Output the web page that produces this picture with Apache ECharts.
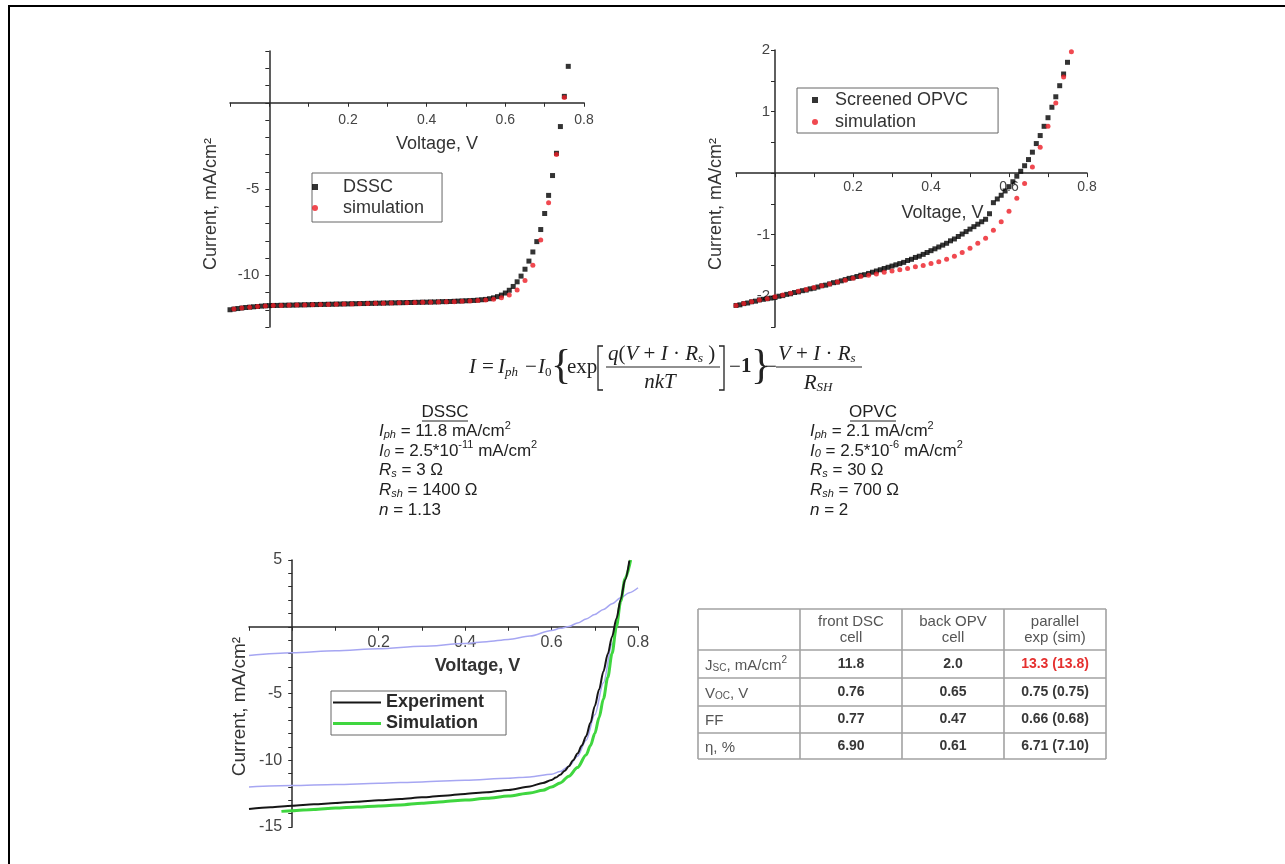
<!DOCTYPE html>
<html><head><meta charset="utf-8">
<script src="https://cdn.jsdelivr.net/npm/echarts@6/dist/echarts.min.js"></script>
<style>html,body{margin:0;padding:0;background:#fff}#c{width:1285px;height:864px}</style>
</head><body><div id="c"></div>
<script>
// ---------- DATA ----------
// Top-left: DSSC measured (black squares) and simulation (red dots)
const dsscExpV = [-0.10,-0.09,-0.08,-0.07,-0.06,-0.05,-0.04,-0.03,-0.02,-0.01,
 0.00,0.01,0.02,0.03,0.04,0.05,0.06,0.07,0.08,0.09,
 0.10,0.11,0.12,0.13,0.14,0.15,0.16,0.17,0.18,0.19,
 0.20,0.21,0.22,0.23,0.24,0.25,0.26,0.27,0.28,0.29,
 0.30,0.31,0.32,0.33,0.34,0.35,0.36,0.37,0.38,0.39,
 0.40,0.41,0.42,0.43,0.44,0.45,0.46,0.47,0.48,0.49,
 0.50,0.51,0.52,0.53,0.54,0.55,0.56,0.57,0.58,0.59,
 0.60,0.61,0.62,0.63,0.64,0.65,0.66,0.67,0.68,0.69,
 0.70,0.71,0.72,0.73,0.74,0.75,0.76];
const dsscExpI = [-12.00,-11.96,-11.93,-11.90,-11.87,-11.85,-11.83,-11.81,-11.79,-11.77,
 -11.76,-11.75,-11.75,-11.74,-11.74,-11.73,-11.73,-11.72,-11.72,-11.71,
 -11.71,-11.70,-11.70,-11.69,-11.69,-11.68,-11.68,-11.67,-11.67,-11.66,
 -11.66,-11.65,-11.65,-11.64,-11.64,-11.63,-11.63,-11.62,-11.62,-11.61,
 -11.61,-11.60,-11.60,-11.59,-11.59,-11.58,-11.58,-11.57,-11.57,-11.56,
 -11.56,-11.55,-11.55,-11.54,-11.53,-11.53,-11.52,-11.51,-11.50,-11.49,
 -11.48,-11.47,-11.46,-11.44,-11.42,-11.40,-11.36,-11.31,-11.24,-11.15,
 -11.03,-10.87,-10.65,-10.38,-10.05,-9.65,-9.18,-8.65,-8.05,-7.35,
 -6.42,-5.37,-4.22,-2.93,-1.38,0.37,2.11];
const dsscSimV = [-0.09,-0.07,-0.05,-0.03,-0.01,0.01,0.03,0.05,0.07,0.09,
 0.11,0.13,0.15,0.17,0.19,0.21,0.23,0.25,0.27,0.29,
 0.31,0.33,0.35,0.37,0.39,0.41,0.43,0.45,0.47,0.49,
 0.51,0.53,0.55,0.57,0.59,0.61,0.63,0.65,0.67,0.69,
 0.71,0.73,0.75];
const dsscSimI = [-11.96,-11.90,-11.85,-11.81,-11.78,-11.76,-11.75,-11.74,-11.73,-11.72,
 -11.71,-11.70,-11.69,-11.68,-11.67,-11.66,-11.65,-11.64,-11.63,-11.62,
 -11.61,-11.60,-11.59,-11.58,-11.57,-11.56,-11.55,-11.54,-11.53,-11.51,
 -11.49,-11.47,-11.44,-11.39,-11.30,-11.14,-10.85,-10.30,-9.42,-7.95,
 -5.80,-3.00,0.30];

// Top-right: screened OPVC measured (black squares) and simulation (red dots)
const opvExpV = [-0.10,-0.09,-0.08,-0.07,-0.06,-0.05,-0.04,-0.03,-0.02,-0.01,
 0.00,0.01,0.02,0.03,0.04,0.05,0.06,0.07,0.08,0.09,
 0.10,0.11,0.12,0.13,0.14,0.15,0.16,0.17,0.18,0.19,
 0.20,0.21,0.22,0.23,0.24,0.25,0.26,0.27,0.28,0.29,
 0.30,0.31,0.32,0.33,0.34,0.35,0.36,0.37,0.38,0.39,
 0.40,0.41,0.42,0.43,0.44,0.45,0.46,0.47,0.48,0.49,
 0.50,0.51,0.52,0.53,0.54,0.55,0.56,0.57,0.58,0.59,
 0.60,0.61,0.62,0.63,0.64,0.65,0.66,0.67,0.68,0.69,
 0.70,0.71,0.72,0.73,0.74,0.75];
const opvExpI = [-2.15,-2.14,-2.12,-2.11,-2.09,-2.08,-2.06,-2.05,-2.04,-2.03,
 -2.02,-2.00,-1.99,-1.97,-1.96,-1.94,-1.93,-1.91,-1.90,-1.88,
 -1.87,-1.85,-1.83,-1.82,-1.80,-1.78,-1.77,-1.75,-1.73,-1.71,
 -1.70,-1.68,-1.66,-1.65,-1.63,-1.61,-1.59,-1.57,-1.55,-1.53,
 -1.51,-1.49,-1.47,-1.45,-1.42,-1.40,-1.37,-1.35,-1.32,-1.29,
 -1.26,-1.23,-1.20,-1.17,-1.14,-1.10,-1.07,-1.03,-0.99,-0.95,
 -0.91,-0.87,-0.83,-0.79,-0.75,-0.66,-0.48,-0.42,-0.36,-0.29,
 -0.22,-0.14,-0.05,0.03,0.12,0.22,0.34,0.48,0.61,0.76,
 0.90,1.07,1.24,1.42,1.61,1.80];
const opvSimV = [-0.10,-0.08,-0.06,-0.04,-0.02,0.00,0.02,0.04,0.06,0.08,
 0.10,0.12,0.14,0.16,0.18,0.20,0.22,0.24,0.26,0.28,
 0.30,0.32,0.34,0.36,0.38,0.40,0.42,0.44,0.46,0.48,
 0.50,0.52,0.54,0.56,0.58,0.60,0.62,0.64,0.66,0.68,
 0.70,0.72,0.74,0.76];
const opvSimI = [-2.15,-2.12,-2.09,-2.06,-2.04,-2.01,-1.98,-1.95,-1.92,-1.89,
 -1.86,-1.83,-1.80,-1.77,-1.74,-1.71,-1.68,-1.66,-1.64,-1.61,
 -1.59,-1.57,-1.55,-1.52,-1.50,-1.47,-1.44,-1.40,-1.35,-1.29,
 -1.22,-1.14,-1.06,-0.93,-0.79,-0.62,-0.41,-0.17,0.10,0.42,
 0.76,1.14,1.56,1.97];

// Bottom: parallel connection, experiment / simulation and the two single-cell curves
const parExpV = [-0.10,-0.05,0.00,0.05,0.10,0.15,0.20,0.25,0.30,0.35,0.40,0.45,0.50,0.55,
 0.58,0.60,0.61,0.62,0.63,0.64,0.65,0.66,0.67,0.68,0.69,0.70,0.71,0.72,0.73,0.74,0.75,0.76,0.77,0.78];
const parExpI = [-13.65,-13.52,-13.40,-13.30,-13.20,-13.10,-13.00,-12.90,-12.78,-12.65,-12.52,-12.40,-12.22,-11.96,
 -11.70,-11.48,-11.30,-11.08,-10.80,-10.45,-10.00,-9.50,-8.90,-8.20,-7.20,-5.95,-4.70,-3.35,-2.05,-0.75,0.60,2.05,3.50,4.95];
const parSimV = [-0.025,0.00,0.05,0.10,0.15,0.20,0.25,0.30,0.35,0.40,0.45,0.50,0.55,
 0.58,0.60,0.62,0.64,0.66,0.68,0.69,0.70,0.71,0.72,0.73,0.74,0.75,0.76,0.77,0.783];
const parSimI = [-13.83,-13.78,-13.68,-13.58,-13.50,-13.42,-13.35,-13.22,-13.10,-12.98,-12.85,-12.68,-12.45,
 -12.25,-12.00,-11.70,-11.20,-10.55,-9.60,-8.90,-8.00,-6.80,-5.40,-3.80,-2.00,0.00,1.90,3.60,5.00];
const dsscRefV = [-0.10,0.00,0.10,0.20,0.30,0.40,0.50,0.55,0.60,0.62,0.64,0.66,0.68,0.70,0.72,0.74,0.76];
const dsscRefI = [-12.00,-11.90,-11.82,-11.73,-11.62,-11.50,-11.35,-11.25,-11.05,-10.85,-10.45,-9.70,-8.50,-6.60,-4.20,-1.30,2.00];
const opvRefV = [-0.10,0.00,0.10,0.20,0.30,0.40,0.45,0.50,0.55,0.60,0.62,0.64,0.66,0.68,0.70,0.72,0.74,0.76,0.78,0.80];
const opvRefI = [-2.15,-1.95,-1.80,-1.65,-1.47,-1.25,-1.12,-0.95,-0.70,-0.28,-0.12,0.02,0.28,0.58,0.92,1.30,1.72,2.17,2.55,2.92];

// Model parameters
const dsscParams = ['11.8', '2.5*10', '-11', '3', '1400', '1.13'];
const opvcParams = ['2.1', '2.5*10', '-6', '30', '700', '2'];

// Table
const tableHeaders = ['front DSC\ncell', 'back OPV\ncell', 'parallel\nexp (sim)'];
const tableRowLabels = ['{n|J}{s|SC}{n|, mA/cm}{u|2}', '{n|V}{s|OC}{n|, V}', '{n|FF}', '{n|η, %}'];
const tableValues = [
  ['11.8', '2.0', '13.3 (13.8)'],
  ['0.76', '0.65', '0.75 (0.75)'],
  ['0.77', '0.47', '0.66 (0.68)'],
  ['6.90', '0.61', '6.71 (7.10)']
];

// ---------- CHART ----------
const SANS = '"Liberation Sans", Arial, sans-serif';
const SERIF = '"Liberation Serif", "Times New Roman", serif';
const SQ = 'path://M0,0L10,0L10,10L0,10Z';
const pairs = (xs, ys) => xs.map((x, i) => [x, ys[i]]);

const xFmt = v => { const k = Math.round(v * 10); return (k > 0 && k % 2 === 0) ? (k / 10).toFixed(1) : ''; };
const yFmt5 = v => { const k = Math.round(v); return (Math.abs(v - k) < 1e-6 && k !== 0 && k % 5 === 0) ? String(k) : ''; };
const yFmt1 = v => { const k = Math.round(v); return (Math.abs(v - k) < 1e-6 && k !== 0) ? String(k) : ''; };

// grids: axis ranges fixed, so the zero lines sit at a known distance from the grid edge
const grids = [
  { left: 230, top: 51, width: 354, height: 276, ymin: -13, ymax: 3 },
  { left: 736, top: 50, width: 351, height: 277, ymin: -2.5, ymax: 2 },
  { left: 249, top: 560, width: 389, height: 267, ymin: -15, ymax: 5 }
];
const XMIN = -0.1, XMAX = 0.8;

function xAx(g, o) {
  const gr = grids[g];
  const zeroFromBottom = (0 - gr.ymin) / (gr.ymax - gr.ymin) * gr.height;
  return {
    type: 'value', gridIndex: g, position: 'bottom', offset: -zeroFromBottom,
    min: XMIN, max: XMAX, interval: 0.1,
    axisLine: { show: true, onZero: false, lineStyle: { color: '#2a2a2a', width: 1.5 } },
    axisTick: { show: true, length: 4, lineStyle: { color: '#2a2a2a', width: 1 } },
    splitLine: { show: false },
    axisLabel: { formatter: xFmt, margin: o.m, color: '#444', fontSize: o.fs, fontFamily: '"Liberation Sans", Arial, sans-serif' },
    name: 'Voltage, V', nameLocation: 'middle', nameGap: o.ng,
    nameTextStyle: { fontSize: o.nfs, color: '#333', fontFamily: SANS, fontWeight: o.bold ? 'bold' : 'normal', padding: [0, 0, 0, o.pl] }
  };
}
function yAx(g, o) {
  const gr = grids[g];
  const zeroFromLeft = (0 - XMIN) / (XMAX - XMIN) * gr.width;
  return {
    type: 'value', gridIndex: g, position: 'left', offset: -zeroFromLeft,
    min: gr.ymin, max: gr.ymax, interval: o.iv,
    axisLine: { show: true, onZero: false, lineStyle: { color: '#2a2a2a', width: 1.5 } },
    axisTick: { show: true, length: 4, lineStyle: { color: '#2a2a2a', width: 1 } },
    splitLine: { show: false },
    axisLabel: { formatter: o.fmt, margin: o.m, color: '#444', fontSize: o.fs, fontFamily: SANS },
    name: 'Current, mA/cm²', nameLocation: 'middle', nameGap: o.ng,
    nameTextStyle: { fontSize: o.nfs, color: '#333', fontFamily: SANS, padding: [0, o.pr, 0, 0] }
  };
}

// ---------- GRAPHIC (frame, equation, parameters, table) ----------
const G = [];
G.push({ type: 'rect', silent: true, shape: { x: 8, y: 5, width: 1277, height: 2 }, style: { fill: '#000' } });
G.push({ type: 'rect', silent: true, shape: { x: 8, y: 5, width: 2, height: 859 }, style: { fill: '#000' } });

function txt(text, x, y, st) {
  return { type: 'text', x: x, y: y, silent: true,
    style: Object.assign({ text: text, fill: '#222', fontFamily: SERIF, fontSize: 21, align: 'left', verticalAlign: 'middle' }, st || {}) };
}
function ln(x1, y1, x2, y2, c, w) {
  return { type: 'line', silent: true, shape: { x1, y1, x2, y2 }, style: { stroke: c, lineWidth: w } };
}
const EQ = 367, NUM = 353, DEN = 382, FL = 367;
const eqRich = {
  i: { fontFamily: SERIF, fontStyle: 'italic', fontSize: 21, lineHeight: 24, verticalAlign: 'bottom' },
  n: { fontFamily: SERIF, fontSize: 21, lineHeight: 24, verticalAlign: 'bottom' },
  s: { fontFamily: SERIF, fontStyle: 'italic', fontSize: 13, lineHeight: 10, verticalAlign: 'bottom' }
};
const IT = { fontStyle: 'italic' };
G.push(txt('I', 469, EQ, IT));
G.push(txt('=', 482, EQ));
G.push(txt('I', 498, EQ, IT));
G.push(txt('ph', 505, EQ + 6, { fontStyle: 'italic', fontSize: 13 }));
G.push(txt('−', 525, EQ));
G.push(txt('I', 538, EQ, IT));
G.push(txt('0', 545, EQ + 6, { fontSize: 13 }));
G.push(txt('{', 551, EQ, { fontSize: 42 }));
G.push(txt('exp', 567, EQ));
G.push({ type: 'polyline', silent: true, shape: { points: [[603, 346], [598, 346], [598, 390], [603, 390]] }, style: { stroke: '#222', lineWidth: 1.3, fill: null } });
G.push(txt('{i|q}{n|(}{i|V}{n| + }{i|I}{n| · }{i|R}{s|s}{n| )}', 608, NUM, { rich: eqRich }));
G.push(ln(606, FL, 720, FL, '#222', 1.2));
G.push(txt('nkT', 660, DEN, { fontStyle: 'italic', align: 'center' }));
G.push({ type: 'polyline', silent: true, shape: { points: [[719, 346], [724, 346], [724, 390], [719, 390]] }, style: { stroke: '#222', lineWidth: 1.3, fill: null } });
G.push(txt('−', 729, EQ));
G.push(txt('1', 741, EQ, { fontWeight: 'bold' }));
G.push(txt('}', 751, EQ, { fontSize: 42 }));
G.push(txt('−', 765, EQ));
G.push(txt('{i|V}{n| + }{i|I}{n| · }{i|R}{s|s}', 778, NUM, { rich: eqRich }));
G.push(ln(776, FL, 862, FL, '#222', 1.2));
G.push(txt('{i|R}{s|SH}', 818, DEN, { rich: eqRich, align: 'center' }));

// parameter blocks
const pRich = {
  n: { fontFamily: SANS, fontSize: 17, lineHeight: 20, verticalAlign: 'bottom' },
  i: { fontFamily: SANS, fontStyle: 'italic', fontSize: 17, lineHeight: 20, verticalAlign: 'bottom' },
  s: { fontFamily: SANS, fontStyle: 'italic', fontSize: 11, lineHeight: 9, verticalAlign: 'bottom' },
  u: { fontFamily: SANS, fontSize: 11, lineHeight: 10, verticalAlign: 'top' }
};
function paramLines(p) {
  return [
    '{i|I}{s|ph}{n| = ' + p[0] + ' mA/cm}{u|2}',
    '{i|I}{s|0}{n| = ' + p[1] + '}{u|' + p[2] + '}{n| mA/cm}{u|2}',
    '{i|R}{s|s}{n| = ' + p[3] + ' Ω}',
    '{i|R}{s|sh}{n| = ' + p[4] + ' Ω}',
    '{i|n}{n| = ' + p[5] + '}'
  ];
}
const paramY = [430, 449.5, 469, 489, 508.5];
function paramBlock(title, cx, left, p) {
  G.push(txt(title, cx, 412, { fontFamily: SANS, fontSize: 17, align: 'center' }));
  G.push(ln(cx - 23, 421, cx + 23, 421, '#222', 1));
  paramLines(p).forEach((s, k) => G.push(txt(s, left, paramY[k], { rich: pRich, fontFamily: SANS })));
}
paramBlock('DSSC', 445, 379, dsscParams);
paramBlock('OPVC', 873, 810, opvcParams);

// table
const tcx = [698, 800, 902, 1004, 1106];
const tcy = [609, 650, 678, 706, 733, 759];
tcy.forEach(y => G.push(ln(tcx[0], y, tcx[4], y, '#a2a2a2', 1.6)));
tcx.forEach(x => G.push(ln(x, tcy[0], x, tcy[5], '#a2a2a2', 1.6)));
tableHeaders.forEach((h, c) => G.push(txt(h, (tcx[c + 1] + tcx[c + 2]) / 2, 629.5,
  { fontFamily: SANS, fontSize: 15, lineHeight: 16, fill: '#555', align: 'center' })));
const tRich = {
  n: { fontFamily: SANS, fontSize: 15, lineHeight: 18, verticalAlign: 'bottom', fill: '#555' },
  s: { fontFamily: SANS, fontSize: 10, lineHeight: 8, verticalAlign: 'bottom', fill: '#555' },
  u: { fontFamily: SANS, fontSize: 10, lineHeight: 9, verticalAlign: 'top', fill: '#555' }
};
tableRowLabels.forEach((lab, r) => {
  const cy = (tcy[r + 1] + tcy[r + 2]) / 2;
  G.push(txt(lab, 705, cy, { rich: tRich, fontFamily: SANS }));
  tableValues[r].forEach((v, c) => {
    const red = (r === 0 && c === 2);
    G.push(txt(v, (tcx[c + 1] + tcx[c + 2]) / 2, cy,
      { fontFamily: SANS, fontSize: 14, fontWeight: 'bold', fill: red ? '#e5302f' : '#383838', align: 'center' }));
  });
});

const option = {
  animation: false,
  backgroundColor: '#ffffff',
  grid: grids.map(g => ({ left: g.left, top: g.top, width: g.width, height: g.height, outerBoundsMode: 'none', containLabel: false })),
  xAxis: [
    xAx(0, { m: 10, fs: 14, ng: 32, nfs: 18, pl: 60 }),
    xAx(1, { m: 7, fs: 14, ng: 31, nfs: 18, pl: 62 }),
    xAx(2, { m: 8, fs: 16, ng: 30, nfs: 18, pl: 68, bold: true })
  ],
  yAxis: [
    yAx(0, { iv: 1, fmt: yFmt5, m: 10, fs: 15, ng: 49, nfs: 18, pr: 30 }),
    yAx(1, { iv: 0.5, fmt: yFmt1, m: 5, fs: 15, ng: 50, nfs: 18, pr: 31 }),
    yAx(2, { iv: 1, fmt: yFmt5, m: 10, fs: 16, ng: 43, nfs: 19, pr: 26 })
  ],
  legend: [
    { left: 312, top: 173, orient: 'vertical', padding: [4, 18, 4, 0], itemGap: 1, itemWidth: 46, itemHeight: 6,
      borderColor: '#666', borderWidth: 1, selectedMode: false,
      textStyle: { fontSize: 18, color: '#333', fontFamily: SANS, lineHeight: 20 },
      data: [{ name: 'DSSC', icon: SQ }, { name: 'simulation', icon: 'circle' }] },
    { left: 797, top: 88, orient: 'vertical', padding: [2, 30, 1, 15], itemGap: 2, itemWidth: 30, itemHeight: 6,
      borderColor: '#666', borderWidth: 1, selectedMode: false,
      textStyle: { fontSize: 18, color: '#333', fontFamily: SANS, lineHeight: 20 },
      data: [{ name: 'Screened OPVC', icon: SQ }, { name: 'simulation', icon: 'circle' }] },
    { left: 331, top: 691, orient: 'vertical', padding: [1, 22, 1, 2], itemGap: 0, itemWidth: 48, itemHeight: 14,
      borderColor: '#666', borderWidth: 1, selectedMode: false,
      textStyle: { fontSize: 18, fontWeight: 'bold', color: '#2a2a2a', fontFamily: SANS, lineHeight: 21 },
      data: [{ name: 'Experiment', icon: 'path://M0,0L48,0L48,2L0,2Z' }, { name: 'Simulation', icon: 'path://M0,0L48,0L48,3L0,3Z' }] }
  ],
  series: [
    { name: 'DSSC', type: 'scatter', xAxisIndex: 0, yAxisIndex: 0, symbol: 'rect', symbolSize: 5,
      itemStyle: { color: '#000' }, data: pairs(dsscExpV, dsscExpI), z: 2 },
    { name: 'simulation', type: 'scatter', xAxisIndex: 0, yAxisIndex: 0, symbol: 'circle', symbolSize: 5,
      itemStyle: { color: '#ec1c24' }, data: pairs(dsscSimV, dsscSimI), z: 3 },
    { name: 'Screened OPVC', type: 'scatter', xAxisIndex: 1, yAxisIndex: 1, symbol: 'rect', symbolSize: 5,
      itemStyle: { color: '#000' }, data: pairs(opvExpV, opvExpI), z: 2 },
    { name: 'simulation', type: 'scatter', xAxisIndex: 1, yAxisIndex: 1, symbol: 'circle', symbolSize: 5,
      itemStyle: { color: '#ec1c24' }, data: pairs(opvSimV, opvSimI), z: 3 },
    { name: 'DSSC cell', type: 'line', xAxisIndex: 2, yAxisIndex: 2, symbol: 'none', smooth: 0.3, smoothMonotone: 'x',
      itemStyle: { color: '#a6a6f2' }, lineStyle: { color: '#a6a6f2', width: 1.5 }, data: pairs(dsscRefV, dsscRefI) },
    { name: 'OPV cell', type: 'line', xAxisIndex: 2, yAxisIndex: 2, symbol: 'none', smooth: 0.3, smoothMonotone: 'x',
      itemStyle: { color: '#a6a6f2' }, lineStyle: { color: '#a6a6f2', width: 1.5 }, data: pairs(opvRefV, opvRefI) },
    { name: 'Simulation', type: 'line', xAxisIndex: 2, yAxisIndex: 2, symbol: 'none', smooth: 0.3, smoothMonotone: 'x',
      itemStyle: { color: '#3fd63f' }, lineStyle: { color: '#3fd63f', width: 3 }, data: pairs(parSimV, parSimI) },
    { name: 'Experiment', type: 'line', xAxisIndex: 2, yAxisIndex: 2, symbol: 'none', smooth: 0.3, smoothMonotone: 'x',
      itemStyle: { color: '#161616' }, lineStyle: { color: '#161616', width: 2 }, data: pairs(parExpV, parExpI) }
  ],
  graphic: G
};

const chart = echarts.init(document.getElementById('c'), null, { renderer: 'canvas', width: 1285, height: 864 });
chart.setOption(option);
</script></body></html>
